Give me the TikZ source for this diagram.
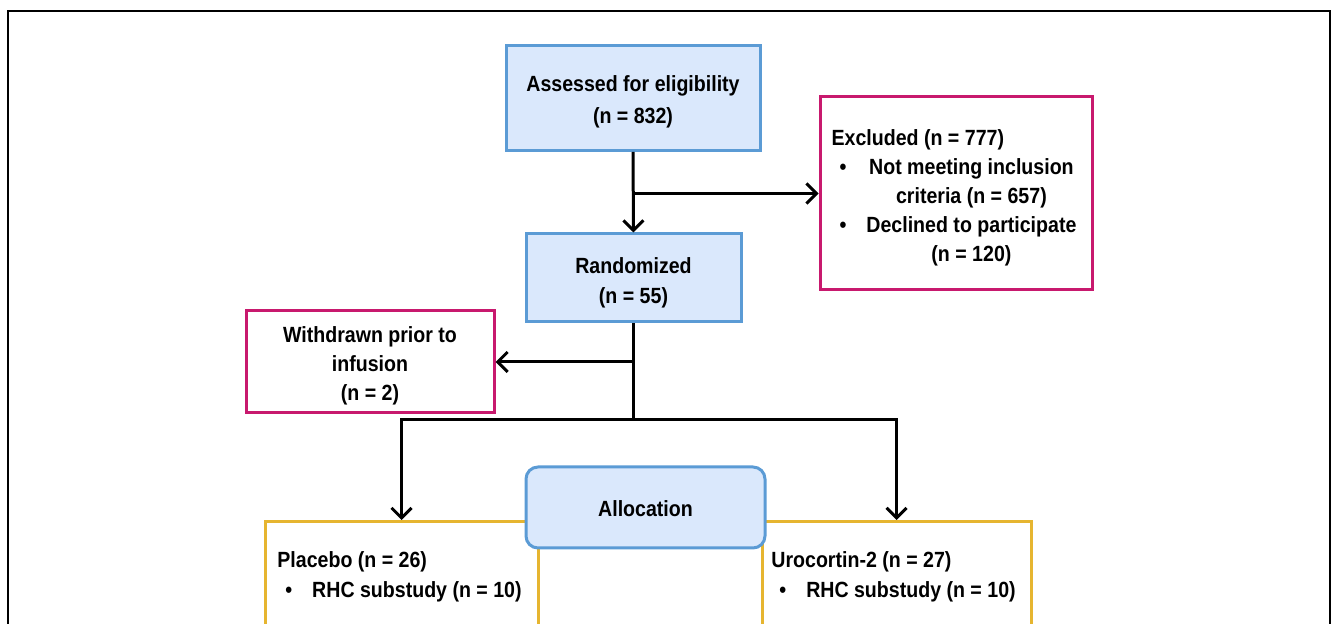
\documentclass[tikz,border=0pt]{standalone}
\usepackage{fontspec}
\setmainfont{Liberation Sans}[FakeStretch=0.89]
\usetikzlibrary{arrows.meta}
\definecolor{bbord}{HTML}{5B9BD5}
\definecolor{bfill}{HTML}{DAE8FC}
\definecolor{mag}{HTML}{C8196E}
\definecolor{gold}{HTML}{E6B530}
\begin{document}
\begin{tikzpicture}[x=0.5pt,y=-0.5pt,
 every node/.style={font=\fontsize{11}{14.5}\selectfont\bfseries, inner sep=0pt},
 bluebox/.style={draw=bbord, fill=bfill, line width=1.5pt},
 magbox/.style={draw=mag, line width=1.5pt, fill=white},
 goldbox/.style={draw=gold, line width=1.5pt, fill=white},
 txt/.style={align=center},
 arr/.style={line width=1.5pt, -{Straight Barb[length=5pt,width=10pt]}},
 ln/.style={line width=1.5pt}]
\useasboundingbox (0,0) rectangle (1334,624);
\clip (0,0) rectangle (1334,624);
\draw[line width=1.2pt] (8,700) -- (8,11) -- (1330,11) -- (1330,700);

\node[bluebox, minimum width=127pt, minimum height=52.5pt] (assess) at (633,98) {};
\node[txt, font=\fontsize{11}{16}\selectfont\bfseries] (assessT) at (633,102) {Assessed for eligibility\\(n = 832)};

\node[magbox, minimum width=136pt, minimum height=96.5pt] (excl) at (956,193.5) {};
\node (exclT) at (954,197.5) {%
\begin{tabular}{@{}l@{}c@{}}
\multicolumn{2}{@{}l@{}}{Excluded (n = 777)}\\
\hspace{4pt}\textbullet\hspace{10pt} & Not meeting inclusion\\
 & criteria (n = 657)\\
\hspace{4pt}\textbullet\hspace{10pt} & Declined to participate\\
 & (n = 120)
\end{tabular}};

\node[bluebox, minimum width=107.5pt, minimum height=44pt] (rand) at (633.5,278) {};
\node[txt, font=\fontsize{11}{15}\selectfont\bfseries] (randT) at (633.5,283) {Randomized\\(n = 55)};

\node[magbox, minimum width=124pt, minimum height=51pt] (wd) at (370,362) {};
\node[txt] (wdT) at (370,366) {Withdrawn prior to\\infusion\\(n = 2)};

\node[goldbox, minimum width=136.5pt, minimum height=100pt, anchor=north] (plbox) at (401.5,520) {};
\node[anchor=west, align=left, font=\fontsize{11}{15}\selectfont\bfseries] (pltext) at (277,576.5) {Placebo (n = 26)\\\hspace{4pt}\textbullet\hspace{10pt}RHC substudy (n = 10)};
\node[goldbox, minimum width=134.5pt, minimum height=100pt, anchor=north] (uobox) at (896.5,520) {};
\node[anchor=west, align=left, font=\fontsize{11}{15}\selectfont\bfseries] (uotext) at (771,576.5) {Urocortin-2 (n = 27)\\\hspace{4pt}\textbullet\hspace{10pt}RHC substudy (n = 10)};

\node[bluebox, rounded corners=6pt, minimum width=119.5pt, minimum height=40.5pt] (alloc) at (645.5,507.5) {};
\node[txt] (allocT) at (645.5,509) {Allocation};

\coordinate (split) at (633.5,420);
\draw[arr] (assess.south) -- (rand.north);
\draw[arr] (assess.south |- excl.west) -- (excl.west);
\draw[ln] (rand.south) -- (split);
\draw[arr] (rand.south |- wd.east) -- (wd.east);
\draw[arr] (split) -| (plbox.north);
\draw[arr] (split) -| (uobox.north);
\end{tikzpicture}
\end{document}
